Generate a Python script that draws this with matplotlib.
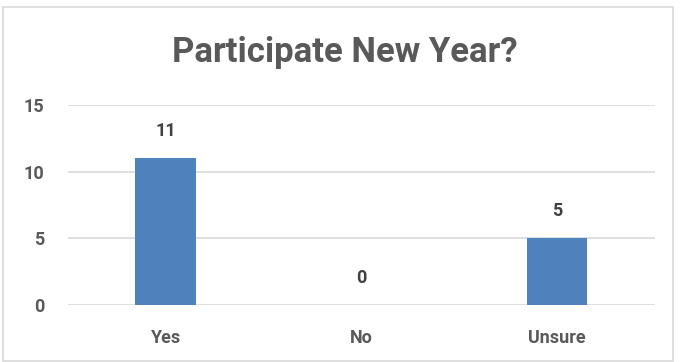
import matplotlib.pyplot as plt
from matplotlib.patches import Rectangle

categories = ['Yes', 'No', 'Unsure']
counts = [11, 0, 5]
yticks = [0, 5, 10, 15]

plt.rcParams['font.family'] = ['Roboto', 'DejaVu Sans']

fig = plt.figure(figsize=(6.8, 3.62), dpi=100)
ax = fig.add_axes([0.1, 0.157, 0.863, 0.553])

x = range(len(categories))
bars = ax.bar(x, counts, width=0.31, color='#4F81BD', zorder=3)

# value labels above bars
for xi, v in zip(x, counts):
    ax.annotate(str(v), (xi, v), xytext=(0, 13), textcoords='offset points',
                ha='center', va='bottom', fontsize=13, fontweight='bold',
                color='#404040')

ax.set_xlim(-0.5, len(categories) - 0.5)
ax.set_ylim(0, 15)
ax.set_yticks(yticks)
ax.set_xticks(list(x))
ax.set_xticklabels(categories)
ax.yaxis.grid(True, color='#D9D9D9', linewidth=1.2, zorder=0)
ax.tick_params(length=0, labelsize=13, labelcolor='#595959')
ax.tick_params(axis='x', pad=17)
ax.tick_params(axis='y', pad=17)
for lbl in ax.get_xticklabels() + ax.get_yticklabels():
    lbl.set_fontweight('bold')
for s in ax.spines.values():
    s.set_visible(False)

fig.text(0.507, 0.829, 'Participate New Year?', ha='center', va='baseline',
         fontsize=25, fontweight='bold', color='#595959')

# chart border
fig.patches.append(Rectangle((0.005, 0.003), 0.985, 0.977, transform=fig.transFigure,
                             fill=False, edgecolor='#D9D9D9', linewidth=1.2))

fig.savefig('out.png', dpi=100)
